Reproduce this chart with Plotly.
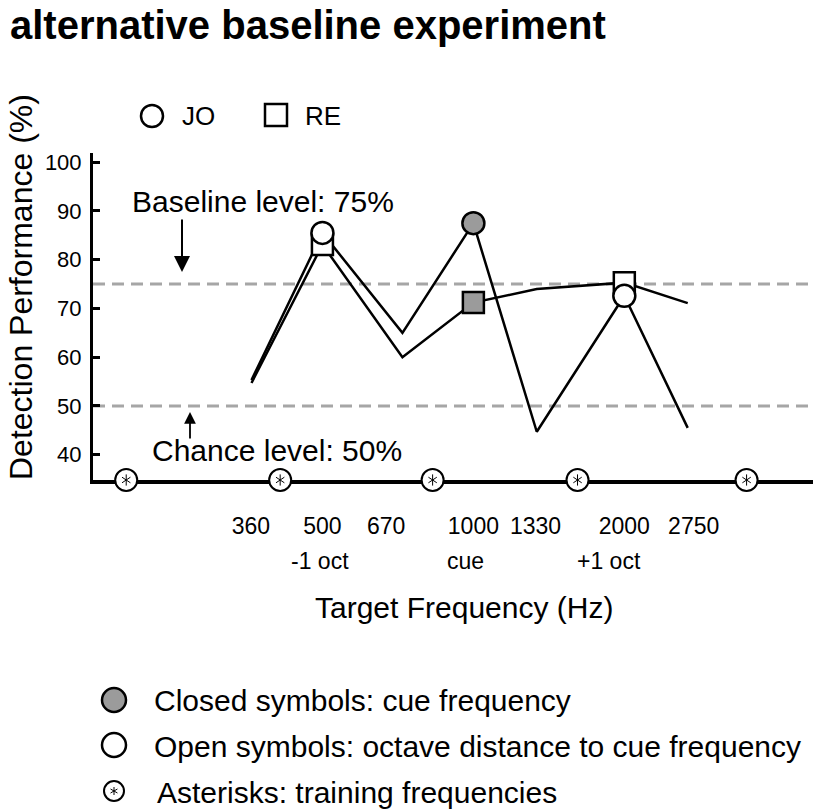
import math
import plotly.graph_objects as go

# ---------------- data ----------------
tick_freqs = [360, 500, 670, 1000, 1330, 2000, 2750]          # Hz labels
oct_freqs = [500, 1000, 2000]
oct_texts = ["-1 oct", "cue", "+1 oct"]
# octave distance to cue of each tested point
x_oct = [-1.47, -1.0, -0.47, 0.0, 0.42, 1.0, 1.42]
jo_perf = [55.3, 85.5, 65.0, 87.5, 44.7, 72.6, 45.5]
re_perf = [54.7, 83.1, 60.0, 71.2, 74.0, 75.3, 71.1]
marked_idx = [1, 3, 5]                       # points carrying a symbol
marked_fill = ["white", "#9b9b9b", "white"]  # open / closed(cue) / open
train_oct = [-2.30, -1.28, -0.27, 0.69, 1.81]  # training frequencies (octaves)
baseline_level = 75
chance_level = 50

# ---------------- geometry ----------------
W, H = 816, 812
L, R, T, B = 93, 813, 153, 480
YMIN, YMAX = 34.8, 101.9
XMIN, XMAX = -2.52, 2.25
FONT = "Liberation Sans, Arial, sans-serif"
OCT_LABEL_SHIFT = [-2, -8, -15]


def px(xp):
    return (xp - L) / (R - L)


def py(yp):
    return (B - yp) / (B - T)


fig = go.Figure()

# data lines
fig.add_trace(go.Scatter(x=x_oct, y=re_perf, mode="lines",
                         line=dict(color="black", width=2.5), showlegend=False))
fig.add_trace(go.Scatter(x=x_oct, y=jo_perf, mode="lines",
                         line=dict(color="black", width=2.5), showlegend=False))
# markers
fig.add_trace(go.Scatter(x=[x_oct[i] for i in marked_idx],
                         y=[re_perf[i] for i in marked_idx], mode="markers",
                         marker=dict(symbol="square", size=21, color=marked_fill,
                                     line=dict(color="black", width=2.5)),
                         showlegend=False))
fig.add_trace(go.Scatter(x=[x_oct[i] for i in marked_idx],
                         y=[jo_perf[i] for i in marked_idx], mode="markers",
                         marker=dict(symbol="circle", size=22, color=marked_fill,
                                     line=dict(color="black", width=2.5)),
                         showlegend=False))
# training frequency markers on the axis
fig.add_trace(go.Scatter(x=train_oct, y=[YMIN] * len(train_oct), mode="markers",
                         marker=dict(symbol="circle", size=22, color="white",
                                     line=dict(color="black", width=2)),
                         cliponaxis=False, showlegend=False))
for sym in ["y-up-open", "y-down-open"]:
    fig.add_trace(go.Scatter(x=train_oct, y=[YMIN] * len(train_oct), mode="markers",
                             marker=dict(symbol=sym, size=7, color="black",
                                         line=dict(color="black", width=1)),
                             cliponaxis=False, showlegend=False))

shapes = []
for lvl in [baseline_level, chance_level]:
    shapes.append(dict(type="line", xref="paper", x0=0, x1=1, yref="y", y0=lvl, y1=lvl,
                       line=dict(color="#a6a6a6", width=3, dash="12px,7px"), layer="below"))


def circle_shape(cx, cy, d, fill, lw=2.5):
    return dict(type="circle", xref="paper", yref="paper", xsizemode="pixel",
                ysizemode="pixel", xanchor=px(cx), yanchor=py(cy),
                x0=-d / 2, x1=d / 2, y0=-d / 2, y1=d / 2,
                fillcolor=fill, line=dict(color="black", width=lw))


def rect_shape(cx, cy, d, fill, lw=2.5):
    s = circle_shape(cx, cy, d, fill, lw)
    s["type"] = "rect"
    return s


def asterisk_shapes(cx, cy, r=4):
    out = []
    for ang in [90, 30, 150]:
        dx = r * math.cos(math.radians(ang))
        dy = r * math.sin(math.radians(ang))
        out.append(dict(type="line", xref="paper", yref="paper", xsizemode="pixel",
                        ysizemode="pixel", xanchor=px(cx), yanchor=py(cy),
                        x0=-dx, x1=dx, y0=-dy, y1=dy,
                        line=dict(color="black", width=1)))
    return out


# top legend symbols
shapes.append(circle_shape(152, 116, 22, "white"))
shapes.append(rect_shape(276, 115, 22, "white"))
# bottom legend symbols
shapes.append(circle_shape(114, 700, 24, "#9b9b9b"))
shapes.append(circle_shape(114, 745, 24, "white"))
shapes.append(circle_shape(114, 791, 20, "white", 2))
shapes += asterisk_shapes(114, 791)

ann = []


def text(x, y, s, size, anchor="center", bold=False, angle=0):
    ann.append(dict(xref="paper", yref="paper", x=px(x), y=py(y), text=s,
                    showarrow=False, xanchor=anchor, yanchor="middle",
                    textangle=angle,
                    font=dict(family=FONT, size=size, color="black",
                              weight="bold" if bold else "normal")))


text(8, 25, "alternative baseline experiment", 40, "left", bold=True)
text(180, 116, "JO", 26, "left")
text(303, 116, "RE", 26, "left")
text(263, 201, "Baseline level: 75%", 30)
text(277, 450, "Chance level: 50%", 30)
text(21, 287, "Detection Performance (%)", 32, angle=-90)
text(464, 607, "Target Frequency (Hz)", 30)
text(152, 700, "Closed symbols: cue frequency", 30, "left")
text(152, 746, "Open symbols: octave distance to cue frequency", 30, "left")
text(155, 792, "Asterisks: training frequencies", 30, "left")

# second row of x tick labels
for f, lab, sh in zip(oct_freqs, oct_texts, OCT_LABEL_SHIFT):
    ann.append(dict(xref="x", yref="paper", x=math.log2(f / 1000), y=0, yshift=-81,
                    xshift=sh, text=lab, showarrow=False, xanchor="center",
                    yanchor="middle", font=dict(family=FONT, size=23, color="black")))

# arrows
ann.append(dict(xref="paper", yref="paper", x=px(182), y=py(272), ax=0, ay=-54,
                text="", showarrow=True, arrowhead=2, arrowsize=1.6, arrowwidth=2,
                arrowcolor="black"))
ann.append(dict(xref="paper", yref="paper", x=px(190), y=py(412), ax=0, ay=28,
                text="", showarrow=True, arrowhead=2, arrowsize=1.3, arrowwidth=1.8,
                arrowcolor="black"))

fig.update_layout(
    width=W, height=H, margin=dict(l=L, r=W - R, t=T, b=H - B),
    paper_bgcolor="white", plot_bgcolor="white", showlegend=False,
    font=dict(family=FONT, color="black"),
    shapes=shapes, annotations=ann,
    xaxis=dict(range=[XMIN, XMAX], showgrid=False, zeroline=False, showline=True,
               linecolor="black", linewidth=3.5, ticks="",
               tickvals=[math.log2(f / 1000) for f in tick_freqs],
               ticktext=[str(f) for f in tick_freqs],
               tickfont=dict(family=FONT, size=23), ticklabelstandoff=23,
               layer="below traces"),
    yaxis=dict(range=[YMIN, YMAX], showgrid=False, zeroline=False, showline=True,
               linecolor="black", linewidth=3, ticks="inside", ticklen=7,
               tickwidth=2.5, tickcolor="black", tickvals=[40, 50, 60, 70, 80, 90, 100],
               tickfont=dict(family=FONT, size=22), ticklabelstandoff=4),
)

fig.write_html("out.html", config={"displayModeBar": False},
               post_script="document.body.style.margin='0px';")
